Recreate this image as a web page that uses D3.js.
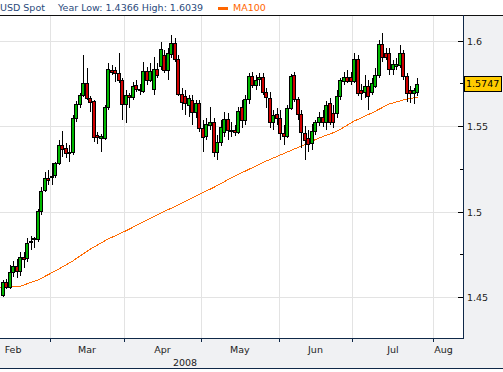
<!DOCTYPE html>
<html><head><meta charset="utf-8">
<script src="https://cdn.jsdelivr.net/npm/d3@7"></script>
<style>
body{margin:0;background:#fff}
svg{display:block}
text{font-family:"DejaVu Sans",Verdana,sans-serif;font-size:9.5px}
</style>
</head><body>
<svg id="chart" width="503" height="372"></svg>
<script>
// ---------- data ----------
const title = "USD Spot";
const subtitle = "Year Low: 1.4366 High: 1.6039";
const maLabel = "MA100";
const lastLabel = "1.5747";
const yearLabel = "2008";
const startDate = "2008-02-12";   // first candle, consecutive weekdays after it
const open = [1.4512,1.4588,1.4558,1.4646,1.4681,1.4652,1.4734,1.4728,1.4822,1.4845,1.4839,1.5003,1.5126,1.5196,1.5202,1.5213,1.5284,1.5389,1.5371,1.5348,1.5348,1.5547,1.5629,1.5681,1.5751,1.5664,1.5646,1.5447,1.5430,1.5430,1.5611,1.5827,1.5827,1.5810,1.5769,1.5629,1.5681,1.5670,1.5740,1.5711,1.5705,1.5822,1.5769,1.5716,1.5833,1.5851,1.5915,1.5827,1.5921,1.5985,1.5892,1.5687,1.5675,1.5623,1.5652,1.5582,1.5635,1.5488,1.5442,1.5506,1.5523,1.5348,1.5406,1.5465,1.5541,1.5471,1.5477,1.5465,1.5611,1.5535,1.5658,1.5792,1.5740,1.5775,1.5787,1.5699,1.5664,1.5523,1.5570,1.5547,1.5459,1.5442,1.5605,1.5798,1.5658,1.5570,1.5459,1.5430,1.5401,1.5471,1.5523,1.5553,1.5523,1.5635,1.5576,1.5576,1.5675,1.5763,1.5787,1.5787,1.5763,1.5892,1.5711,1.5699,1.5734,1.5699,1.5734,1.5798,1.5980,1.5927,1.5927,1.5833,1.5851,1.5857,1.5927,1.5792,1.5711,1.5693,1.5699];
const high = [1.4599,1.4605,1.4687,1.4711,1.4722,1.4763,1.4763,1.4845,1.4857,1.4851,1.5015,1.5143,1.5231,1.5243,1.5284,1.5289,1.5418,1.5471,1.5401,1.5389,1.5564,1.5646,1.5693,1.5915,1.5839,1.5675,1.5652,1.5465,1.5453,1.5623,1.5868,1.5857,1.5845,1.5927,1.5781,1.5711,1.5693,1.5757,1.5769,1.5746,1.5874,1.5845,1.5868,1.5904,1.5868,1.5991,1.5944,1.5956,1.6032,1.6015,1.5915,1.5722,1.5711,1.5681,1.5681,1.5652,1.5652,1.5535,1.5547,1.5611,1.5547,1.5447,1.5535,1.5582,1.5576,1.5523,1.5506,1.5611,1.5652,1.5681,1.5810,1.5816,1.5798,1.5810,1.5810,1.5722,1.5699,1.5594,1.5605,1.5594,1.5506,1.5623,1.5804,1.5816,1.5670,1.5594,1.5500,1.5477,1.5512,1.5535,1.5582,1.5594,1.5646,1.5664,1.5623,1.5711,1.5781,1.5816,1.5827,1.5816,1.5927,1.5915,1.5746,1.5798,1.5769,1.5781,1.5839,1.6003,1.6044,1.5956,1.5956,1.5886,1.5898,1.5974,1.5944,1.5810,1.5734,1.5722,1.5781];
const low = [1.4500,1.4547,1.4547,1.4617,1.4611,1.4623,1.4670,1.4705,1.4775,1.4787,1.4822,1.4980,1.5114,1.5155,1.5155,1.5196,1.5272,1.5319,1.5313,1.5289,1.5330,1.5523,1.5605,1.5670,1.5652,1.5582,1.5406,1.5395,1.5348,1.5418,1.5594,1.5798,1.5757,1.5751,1.5535,1.5518,1.5605,1.5652,1.5699,1.5681,1.5693,1.5740,1.5757,1.5681,1.5781,1.5827,1.5810,1.5769,1.5898,1.5874,1.5675,1.5594,1.5564,1.5553,1.5506,1.5547,1.5465,1.5348,1.5418,1.5477,1.5319,1.5301,1.5383,1.5436,1.5418,1.5436,1.5442,1.5453,1.5488,1.5506,1.5629,1.5722,1.5711,1.5734,1.5681,1.5605,1.5488,1.5477,1.5506,1.5418,1.5389,1.5430,1.5594,1.5640,1.5535,1.5371,1.5301,1.5348,1.5360,1.5447,1.5500,1.5494,1.5477,1.5506,1.5488,1.5547,1.5652,1.5740,1.5751,1.5740,1.5751,1.5675,1.5652,1.5664,1.5594,1.5681,1.5722,1.5781,1.5874,1.5886,1.5798,1.5798,1.5827,1.5839,1.5769,1.5640,1.5635,1.5629,1.5675];
const close = [1.4588,1.4558,1.4646,1.4681,1.4652,1.4734,1.4722,1.4816,1.4828,1.4839,1.5003,1.5120,1.5196,1.5184,1.5208,1.5284,1.5389,1.5366,1.5342,1.5342,1.5547,1.5629,1.5681,1.5751,1.5664,1.5640,1.5436,1.5436,1.5442,1.5611,1.5833,1.5816,1.5810,1.5769,1.5629,1.5681,1.5670,1.5734,1.5716,1.5716,1.5822,1.5769,1.5822,1.5833,1.5798,1.5950,1.5827,1.5927,1.5985,1.5892,1.5687,1.5640,1.5635,1.5664,1.5582,1.5635,1.5488,1.5436,1.5512,1.5523,1.5348,1.5406,1.5494,1.5541,1.5477,1.5477,1.5465,1.5588,1.5535,1.5658,1.5792,1.5740,1.5769,1.5787,1.5699,1.5670,1.5523,1.5564,1.5547,1.5459,1.5442,1.5605,1.5792,1.5658,1.5570,1.5465,1.5418,1.5395,1.5471,1.5523,1.5553,1.5523,1.5623,1.5523,1.5523,1.5675,1.5769,1.5787,1.5763,1.5763,1.5892,1.5693,1.5693,1.5734,1.5675,1.5751,1.5798,1.5980,1.5904,1.5904,1.5833,1.5863,1.5863,1.5927,1.5792,1.5693,1.5693,1.5711,1.5747];
// MA100 read at selected candle positions
const maIndex = [-1,0,5,10,15,20,25,30,35,40,45,50,55,60,65,70,75,80,85,90,95,100,105,110,115,118];
const maValue = [1.4556,1.4557,1.4563,1.4599,1.4652,1.4711,1.4781,1.4839,1.4886,1.4939,1.4991,1.5038,1.5091,1.5140,1.5196,1.5246,1.5295,1.5339,1.5383,1.5430,1.5468,1.5529,1.5576,1.5629,1.5658,1.5668];
const yTicks = [1.45,1.5,1.55,1.6];
const yTickLabels = ["1.45","1.5","1.55","1.6"];
const yMinorTicks = [1.475,1.525,1.575];
const monthLabels = ["Feb","Mar","Apr","May","Jun","Jul","Aug"];

// ---------- layout ----------
const W = 503, H = 372;
const plot = {left:0, right:463, top:15, bottom:338};
const svg = d3.select("#chart");

// trading days (weekdays) from Feb 1 through early Sep
const days = [];
for (let d = new Date(2008,1,1); d <= new Date(2008,8,5); d.setDate(d.getDate()+1)) {
  const wd = d.getDay();
  if (wd !== 0 && wd !== 6) days.push(new Date(d));
}
const fmt = d3.timeFormat("%Y-%m-%d");
const startIdx = days.findIndex(d => fmt(d) === startDate);
const monthStart = m => days.findIndex(d => d.getMonth() === m);
const marIdx = monthStart(2), augIdx = monthStart(7);

const x = d3.scaleLinear().domain([marIdx, augIdx]).range([50, 433.3]);
const y = d3.scaleLinear().domain([1.45, 1.6]).range([297, 40.5]);

// backgrounds
svg.append("rect").attr("x",0).attr("y",0).attr("width",W).attr("height",H).attr("fill","#fff");
svg.append("rect").attr("x",plot.right).attr("y",plot.top).attr("width",W-plot.right).attr("height",plot.bottom-plot.top).attr("fill","#f0f1f3");
svg.append("rect").attr("x",0).attr("y",plot.bottom).attr("width",W).attr("height",368-plot.bottom).attr("fill","#f0f1f3");

// gridlines
const grid = svg.append("g").attr("shape-rendering","crispEdges");
yTicks.forEach(v => {
  grid.append("line").attr("x1",plot.left).attr("x2",plot.right)
    .attr("y1",Math.round(y(v))+0.5).attr("y2",Math.round(y(v))+0.5)
    .attr("stroke","#e3e3e3").attr("stroke-width",1);
});
const monthIdx = [1,2,3,4,5,6,7,8].map(monthStart);
monthIdx.forEach((mi, k) => {
  const xx = x(mi);
  if (xx > plot.left && xx < plot.right) {
    grid.append("line").attr("x1",Math.round(xx)+0.5).attr("x2",Math.round(xx)+0.5)
      .attr("y1",plot.top).attr("y2",plot.bottom)
      .attr("stroke","#e3e3e3").attr("stroke-width",1);
  }
});

// clip
svg.append("clipPath").attr("id","clip").append("rect")
  .attr("x",plot.left).attr("y",plot.top).attr("width",plot.right-plot.left).attr("height",plot.bottom-plot.top);
const g = svg.append("g").attr("clip-path","url(#clip)");

// MA line
const maPts = maIndex.map((i,k) => ({i, v: maValue[k]}));
g.append("path").datum(maPts)
  .attr("d", d3.line().x(d => x(startIdx + d.i + 0.5)).y(d => y(d.v)))
  .attr("fill","none").attr("stroke","#ff6a00").attr("stroke-width",1)
  .attr("shape-rendering","crispEdges");

// candles
const candles = open.map((o,i) => ({i, o, h: high[i], l: low[i], c: close[i]}));
const cg = g.append("g").attr("shape-rendering","crispEdges");
candles.forEach(d => {
  const cx = Math.round(x(startIdx + d.i + 0.5));
  cg.append("line").attr("x1",cx+0.5).attr("x2",cx+0.5)
    .attr("y1",Math.round(y(d.h))).attr("y2",Math.round(y(d.l)))
    .attr("stroke","#000").attr("stroke-width",1);
});
candles.forEach(d => {
  const cx = Math.round(x(startIdx + d.i + 0.5));
  const top = Math.round(y(Math.max(d.o,d.c)));
  const bot = Math.round(y(Math.min(d.o,d.c)));
  cg.append("rect").attr("x",cx-1.5).attr("y",top+0.5)
    .attr("width",3).attr("height",Math.max(1,bot-top))
    .attr("fill", d.c >= d.o ? "#00b800" : "#d00000")
    .attr("stroke","#000").attr("stroke-width",1);
});

// frame lines
const fr = svg.append("g").attr("shape-rendering","crispEdges");
fr.append("line").attr("x1",0).attr("x2",W).attr("y1",15.5).attr("y2",15.5).attr("stroke","#111").attr("stroke-width",1);
fr.append("line").attr("x1",0).attr("x2",plot.right+1).attr("y1",plot.bottom+0.5).attr("y2",plot.bottom+0.5).attr("stroke","#0f2848").attr("stroke-width",1.5);
fr.append("line").attr("x1",plot.right+0.5).attr("x2",plot.right+0.5).attr("y1",plot.top).attr("y2",plot.bottom+1).attr("stroke","#0f2848").attr("stroke-width",1.5);
fr.append("line").attr("x1",0).attr("x2",W).attr("y1",368.5).attr("y2",368.5).attr("stroke","#0f2848").attr("stroke-width",1.5);

// y axis ticks and labels
yTicks.forEach((v,k) => {
  const yy = Math.round(y(v))+0.5;
  fr.append("line").attr("x1",plot.right-5).attr("x2",plot.right).attr("y1",yy).attr("y2",yy).attr("stroke","#000");
  svg.append("text").attr("x",467).attr("y",yy).attr("dy","0.35em").attr("fill","#222").text(yTickLabels[k]);
});
yMinorTicks.forEach(v => {
  const yy = Math.round(y(v))+0.5;
  fr.append("line").attr("x1",plot.right-3).attr("x2",plot.right).attr("y1",yy).attr("y2",yy).attr("stroke","#000");
});

// x axis ticks and month labels
for (let k = 0; k < monthLabels.length; k++) {
  const a = x(monthIdx[k]), b = x(monthIdx[k+1]);
  if (a > plot.left && a < plot.right) {
    fr.append("line").attr("x1",Math.round(a)+0.5).attr("x2",Math.round(a)+0.5)
      .attr("y1",plot.bottom).attr("y2",plot.bottom+4).attr("stroke","#0f2848");
  }
  let t = svg.append("text").attr("y",352.5).attr("fill","#222").text(monthLabels[k]);
  const w = t.node().getComputedTextLength();
  let cx = (a+b)/2;
  if (cx + w/2 > plot.right) cx = a + w/2 + 1;
  t.attr("x",cx).attr("text-anchor","middle");
}
svg.append("text").attr("x",185).attr("y",366).attr("text-anchor","middle").attr("fill","#222").text(yearLabel);

// last price label
const ly = y(close[close.length-1]);
svg.append("rect").attr("x",464.5).attr("y",Math.round(ly)-7.5).attr("width",37).attr("height",15)
  .attr("fill","#ffcc00").attr("stroke","#000").attr("stroke-width",1).attr("shape-rendering","crispEdges");
svg.append("text").attr("x",466).attr("y",Math.round(ly)).attr("dy","0.36em").attr("fill","#000").text(lastLabel);

// header
svg.append("text").attr("x",0).attr("y",11).attr("fill","#2a4a7c").text(title);
svg.append("text").attr("x",58).attr("y",11).attr("fill","#2a4a7c").text(subtitle);
svg.append("rect").attr("x",218).attr("y",7).attr("width",10).attr("height",3).attr("fill","#ff6600");
svg.append("text").attr("x",233).attr("y",11).attr("fill","#ff6600").text(maLabel);
</script>
</body></html>
